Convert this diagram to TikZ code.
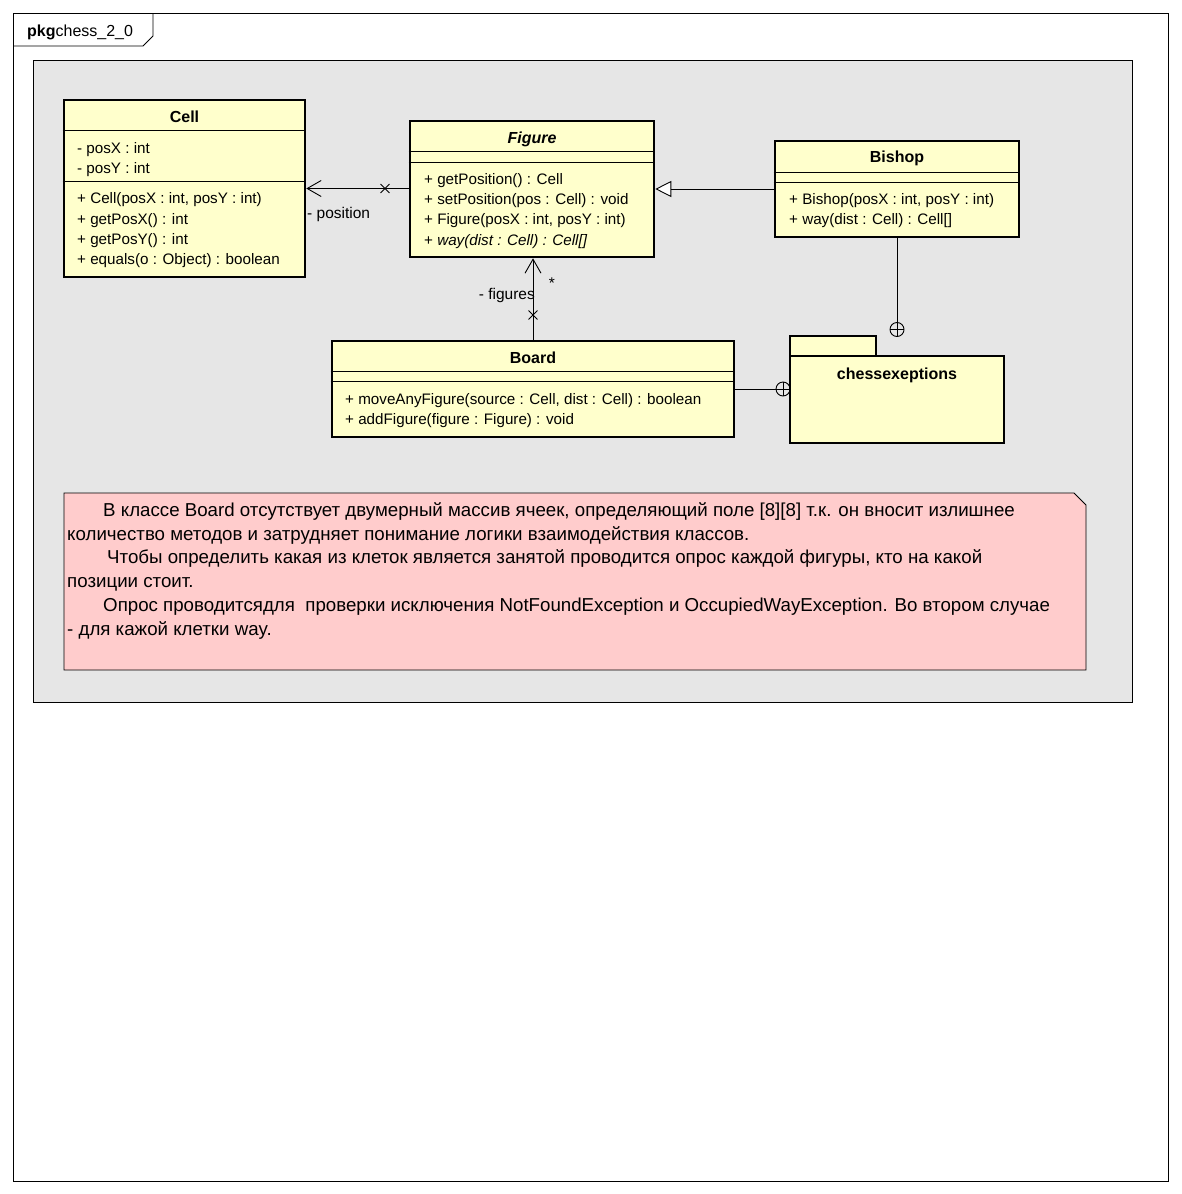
\documentclass[tikz,border=0pt]{standalone}
\usepackage{fontspec}
\setmainfont{Liberation Sans}
\usetikzlibrary{arrows.meta,shapes.misc}
\definecolor{classfill}{RGB}{255,255,204}
\definecolor{bgfill}{RGB}{230,230,230}
\definecolor{notefill}{RGB}{255,204,204}
\begin{document}
\begin{tikzpicture}[x=1pt,y=-1pt,
  classbox/.style={draw,line width=2.6pt,fill=classfill,inner sep=0pt},
  sep/.style={line width=0.8pt},
  title/.style={font=\fontsize{16}{18}\selectfont\bfseries,inner sep=0pt,anchor=base},
  member/.style={font=\fontsize{15.2}{17}\selectfont,inner sep=0pt,anchor=base west},
  notetext/.style={font=\fontsize{18.7}{21}\selectfont,inner sep=0pt,anchor=base west},
  lbl/.style={font=\fontsize{15.5}{17}\selectfont,inner sep=0pt},
  conn/.style={line width=0.9pt},
  xmark/.style={cross out,draw,line width=0.9pt,minimum size=8pt,inner sep=0pt},
  cplus/.style={circle,draw,line width=0.9pt,minimum size=14pt,inner sep=0pt,
    path picture={\draw[line width=0.9pt] (path picture bounding box.north) -- (path picture bounding box.south)
      (path picture bounding box.west) -- (path picture bounding box.east);}},
]
\useasboundingbox (0,0) rectangle (1181,1194);
\fill[white] (0,0) rectangle (1181,1194);

% package frame with its name tab
\draw[line width=0.8pt] (13,13) rectangle (1168,1181);
\draw[line width=0.8pt] (13,46) -- (143,46) -- (153,36) -- (153,13);
\node[inner sep=0pt,anchor=base west,font=\fontsize{16}{18}\selectfont] (pkgname) at (27,36.5) {\textbf{pkg}chess\_2\_0};

% grey diagram area
\draw[line width=0.8pt,fill=bgfill] (33,60) rectangle (1132,702);

% class Cell
\node[classbox,minimum width=241pt,minimum height=177pt] (cell) at (184.5,188.5) {};
\draw[sep] (cell.west |- 0,130) -- (cell.east |- 0,130);
\draw[sep] (cell.west |- 0,181) -- (cell.east |- 0,181);
\node[title] (celltitle) at (184.5,122.5) {Cell};
\node[member] (cm1) at (77,153.5) {- posX : int};
\node[member] (cm2) at (77,173.5) {- posY : int};
\node[member] (cm3) at (77,203.5) {+ Cell(posX : int, posY : int)};
\node[member] (cm4) at (77,224.5) {+ getPosX() : int};
\node[member] (cm5) at (77,244.5) {+ getPosY() : int};
\node[member] (cm6) at (77,264.5) {+ equals(o : Object) : boolean};

% abstract class Figure
\node[classbox,minimum width=244pt,minimum height=136pt] (fig) at (532,189) {};
\draw[sep] (fig.west |- 0,151) -- (fig.east |- 0,151);
\draw[sep] (fig.west |- 0,162) -- (fig.east |- 0,162);
\node[title,font=\fontsize{16}{18}\selectfont\bfseries\itshape] (figtitle) at (532,143.5) {Figure};
\node[member] (fm1) at (424,184.5) {+ getPosition() : Cell};
\node[member] (fm2) at (424,204.5) {+ setPosition(pos : Cell) : void};
\node[member] (fm3) at (424,224.5) {+ Figure(posX : int, posY : int)};
\node[member] (fm4) at (424,245.5) {+ \textit{way(dist : Cell) : Cell[]}};

% class Bishop
\node[classbox,minimum width=244pt,minimum height=96pt] (bishop) at (897,189) {};
\draw[sep] (bishop.west |- 0,172) -- (bishop.east |- 0,172);
\draw[sep] (bishop.west |- 0,182) -- (bishop.east |- 0,182);
\node[title] (bishoptitle) at (897,162.5) {Bishop};
\node[member] (bm1) at (789,204.5) {+ Bishop(posX : int, posY : int)};
\node[member] (bm2) at (789,224.5) {+ way(dist : Cell) : Cell[]};

% class Board
\node[classbox,minimum width=402pt,minimum height=96pt] (board) at (533,389) {};
\draw[sep] (board.west |- 0,371) -- (board.east |- 0,371);
\draw[sep] (board.west |- 0,381) -- (board.east |- 0,381);
\node[title] (boardtitle) at (533,363.5) {Board};
\node[member] (om1) at (345,404.5) {+ moveAnyFigure(source : Cell, dist : Cell) : boolean};
\node[member] (om2) at (345,424.5) {+ addFigure(figure : Figure) : void};

% package chessexeptions
\node[classbox,minimum width=86pt,minimum height=20pt] (pkgtab) at (833,346) {};
\node[classbox,minimum width=214pt,minimum height=87pt] (pkg) at (897,399.5) {};
\node[title] (pkgtitle) at (897,379.5) {chessexeptions};

% Figure -> Cell association
\node[xmark] (x1) at (385,188.5) {};
\draw[conn,-{Straight Barb[length=14pt,width=16pt,line width=0.9pt]}] (fig.west |- cell.east) -- (cell.east);
\node[lbl,anchor=west] (poslbl) at (307,214) {- position};

% Bishop generalizes Figure
\draw[conn,-{Triangle[length=16pt,width=16pt,fill=white,line width=0.9pt]}] (bishop.west) -- (fig.east);

% Board -> Figure association
\node[xmark] (x2) at (533,315) {};
\draw[conn,-{Straight Barb[length=14pt,width=16pt,line width=0.9pt]}] (board.north) -- (board.north |- fig.south);
\node[lbl,anchor=east] (figlbl) at (535,295) {- figures};
\node[lbl] (mult) at (552,283) {*};

% nesting in package chessexeptions
\node[cplus] (cp1) at (897,329.5) {};
\draw[conn] (bishop.south) -- (cp1.north);
\node[cplus] (cp2) at (783,389) {};
\draw[conn] (board.east) -- (cp2.west);

% note
\draw[line width=0.8pt,fill=notefill] (64,493) -- (1074,493) -- (1086,505) -- (1086,670) -- (64,670) -- cycle;
\node[notetext] (n1) at (103,516.5) {В классе Board отсутствует двумерный массив ячеек, определяющий поле [8][8] т.к. он вносит излишнее};
\node[notetext] (n2) at (67,540) {количество методов и затрудняет понимание логики взаимодействия классов.};
\node[notetext] (n3) at (107,563) {Чтобы определить какая из клеток является занятой проводится опрос каждой фигуры, кто на какой};
\node[notetext] (n4) at (67,587) {позиции стоит.};
\node[notetext] (n5) at (103,611) {Опрос проводитсядля\ \ проверки исключения NotFoundException и OccupiedWayException. Во втором случае};
\node[notetext] (n6) at (67,635) {- для кажой клетки way.};
\end{tikzpicture}
\end{document}
